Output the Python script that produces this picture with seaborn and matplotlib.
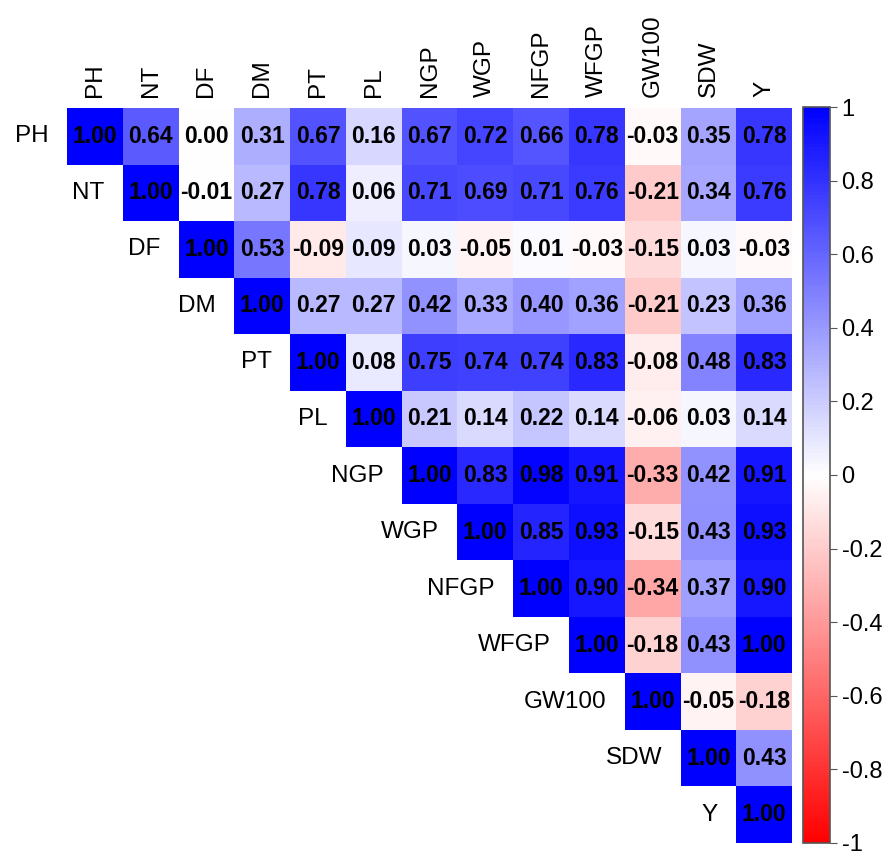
import matplotlib.pyplot as plt
import seaborn as sns
import numpy as np
import pandas as pd
from matplotlib.colors import LinearSegmentedColormap

traits = ["PH", "NT", "DF", "DM", "PT", "PL", "NGP", "WGP", "NFGP", "WFGP", "GW100", "SDW", "Y"]

# upper triangle, row by row (starting at the diagonal)
ph = [1.00, 0.64, 0.00, 0.31, 0.67, 0.16, 0.67, 0.72, 0.66, 0.78, -0.03, 0.35, 0.78]
nt = [1.00, -0.01, 0.27, 0.78, 0.06, 0.71, 0.69, 0.71, 0.76, -0.21, 0.34, 0.76]
df_ = [1.00, 0.53, -0.09, 0.09, 0.03, -0.05, 0.01, -0.03, -0.15, 0.03, -0.03]
dm = [1.00, 0.27, 0.27, 0.42, 0.33, 0.40, 0.36, -0.21, 0.23, 0.36]
pt = [1.00, 0.08, 0.75, 0.74, 0.74, 0.83, -0.08, 0.48, 0.83]
pl = [1.00, 0.21, 0.14, 0.22, 0.14, -0.06, 0.03, 0.14]
ngp = [1.00, 0.83, 0.98, 0.91, -0.33, 0.42, 0.91]
wgp = [1.00, 0.85, 0.93, -0.15, 0.43, 0.93]
nfgp = [1.00, 0.90, -0.34, 0.37, 0.90]
wfgp = [1.00, -0.18, 0.43, 1.00]
gw100 = [1.00, -0.05, -0.18]
sdw = [1.00, 0.43]
y = [1.00]
rows = [ph, nt, df_, dm, pt, pl, ngp, wgp, nfgp, wfgp, gw100, sdw, y]

n = len(traits)
mat = np.zeros((n, n))
for i, r in enumerate(rows):
    mat[i, i:] = r
    mat[i:, i] = r
corr = pd.DataFrame(mat, index=traits, columns=traits)
mask = np.tril(np.ones((n, n), dtype=bool), k=-1)

plt.rcParams["font.family"] = ["Liberation Sans", "DejaVu Sans"]
cmap = LinearSegmentedColormap.from_list("rwb", ["#FF0000", "#FFFFFF", "#0000FF"], N=200)

fig = plt.figure(figsize=(8.86, 8.56), dpi=100)
ax = fig.add_axes([0.0756, 0.0152, 0.8184, 0.8586])
cax = fig.add_axes([0.906, 0.0152, 0.0305, 0.8598])

sns.heatmap(corr, mask=mask, cmap=cmap, vmin=-1, vmax=1, annot=True, fmt=".2f",
            annot_kws={"fontsize": 16.5, "fontweight": "bold", "color": "black"},
            linewidths=0, square=False,
            cbar_ax=cax, ax=ax,
            cbar_kws={"ticks": np.linspace(-1, 1, 11)})

# annotations always black
for t in ax.texts:
    t.set_color("black")

ax.xaxis.tick_top()
ax.set_xticklabels(traits, rotation=90, fontsize=17.5)
ax.tick_params(axis="x", length=0, pad=8)
ax.set_yticks([])
ax.set_xlabel("")
ax.set_ylabel("")

# row labels next to the diagonal
for i, name in enumerate(traits):
    ax.text(i - 0.33, i + 0.5, name, ha="right", va="center", fontsize=17.5)

cbar = ax.collections[0].colorbar
cbar.set_ticklabels(["-1", "-0.8", "-0.6", "-0.4", "-0.2", "0", "0.2", "0.4", "0.6", "0.8", "1"])
cbar.ax.tick_params(labelsize=17, length=5, width=0.8, color="#555555")
cbar.outline.set_visible(True)
cbar.outline.set_edgecolor("#555555")
cbar.outline.set_linewidth(1.2)

plt.savefig("out.png", dpi=100)
